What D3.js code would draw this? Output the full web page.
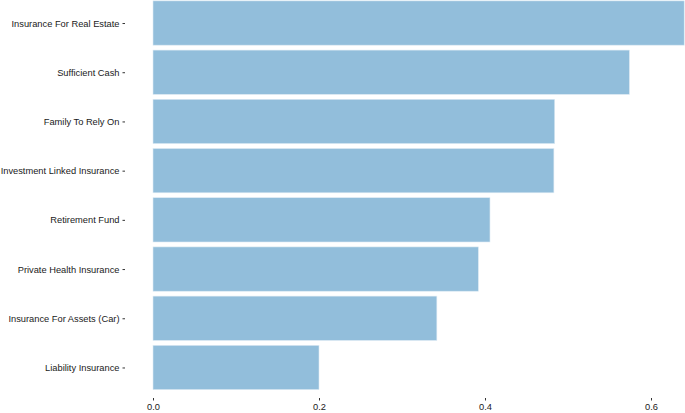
<!DOCTYPE html>
<html><head><meta charset="utf-8">
<script src="https://cdn.jsdelivr.net/npm/d3@7"></script>
<style>body{margin:0;background:#fff}text{font-family:"Liberation Sans",Arial,sans-serif}</style>
</head><body><svg id="c" width="685" height="413"></svg>
<script>
const categories = ["Insurance For Real Estate","Sufficient Cash","Family To Rely On","Investment Linked Insurance","Retirement Fund","Private Health Insurance","Insurance For Assets (Car)","Liability Insurance"];
const values = [0.640, 0.574, 0.484, 0.483, 0.406, 0.392, 0.342, 0.200];
const xTicks = [0, 0.2, 0.4, 0.6];

const svg = d3.select("#c");
const x = d3.scaleLinear().domain([0, 0.6]).range([153, 651]);
const y = d3.scaleBand().domain(categories).range([-6.5, 397]).paddingInner(0.1).paddingOuter(0.15);

svg.selectAll("rect.bar").data(categories).join("rect").attr("class","bar")
  .attr("x", x(0)).attr("y", d => y(d))
  .attr("width", (d,i) => x(values[i]) - x(0)).attr("height", y.bandwidth())
  .attr("fill", "#92bedb").attr("stroke", "#dceaf3").attr("stroke-width", 0.6);

const yAxis = d3.axisLeft(y).tickSize(2.5).tickPadding(3);
const gy = svg.append("g").attr("transform", "translate(125,0.5)").call(yAxis);
gy.select(".domain").remove();
gy.selectAll("line").attr("stroke", "#333");
gy.selectAll("text").attr("font-size", "9.3px").attr("fill", "#1a1a1a");

const xAxis = d3.axisBottom(x).tickValues(xTicks).tickFormat(d3.format(".1f")).tickSize(2.5).tickPadding(3);
const gx = svg.append("g").attr("transform", "translate(0,398)").call(xAxis);
gx.select(".domain").remove();
gx.selectAll("line").attr("stroke", "#333");
gx.selectAll("text").attr("font-size", "9.3px").attr("fill", "#1a1a1a");
</script></body></html>
